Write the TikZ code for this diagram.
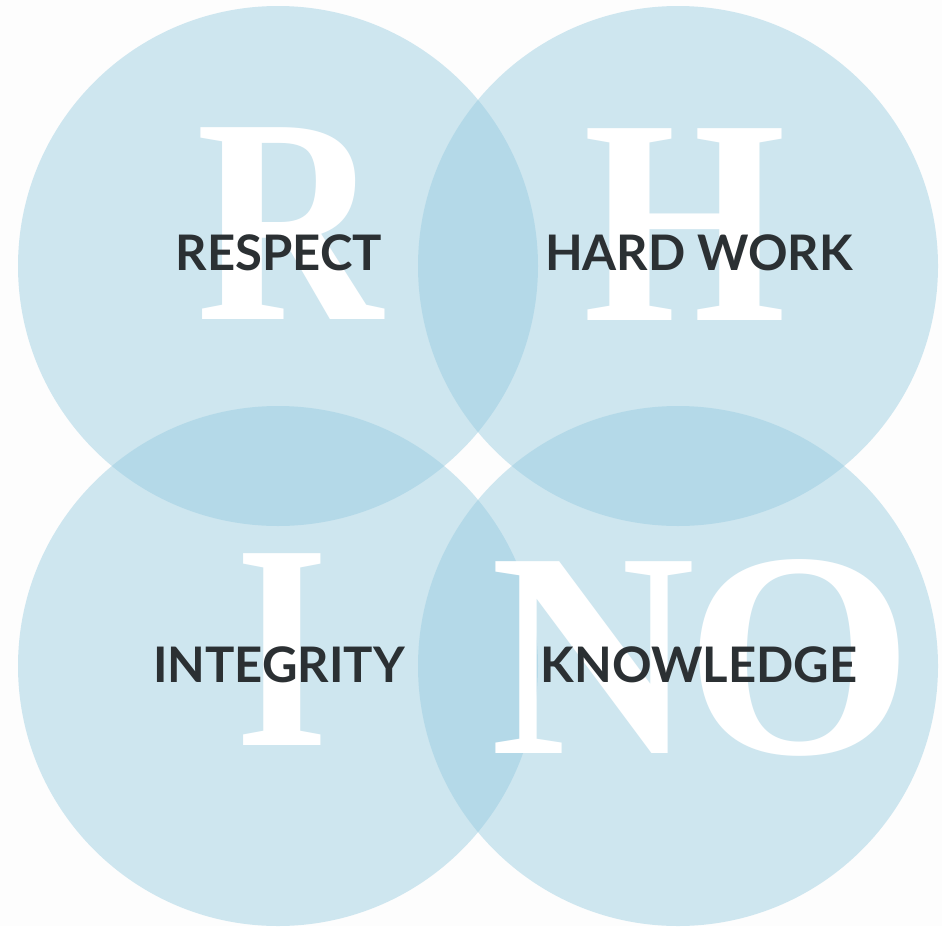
\documentclass[tikz,border=0pt]{standalone}
\usepackage{fontspec}
\newfontfamily\latofont{Lato}
\newfontfamily\bigfont{Liberation Serif}
\definecolor{paper}{RGB}{253,253,253}
\definecolor{sky}{RGB}{150,203,224}
\definecolor{ink}{HTML}{2B3033}
\begin{document}
\begin{tikzpicture}[x=1pt,y=-1pt,
		disc/.style={fill=sky,fill opacity=0.45},
		letter/.style={text=white,inner sep=0pt,anchor=base,font=\bigfont\bfseries\fontsize{293}{293}\selectfont},
		word/.style={text=ink,inner sep=0pt,font=\latofont\bfseries\fontsize{49}{49}\selectfont}]
	\fill[paper] (0,0) rectangle (942,926);
	% four circles
	\fill[disc] (278,266) circle (260);
	\fill[disc] (678,266) circle (260);
	\fill[disc] (278,666) circle (260);
	\fill[disc] (678,666) circle (260);
	% big letters
	\node[letter,xscale=0.88] (R) at (290,319) {R};
	\node[letter,xscale=0.89] (H) at (685,320) {H};
	\node[letter,xscale=0.82] (I) at (282,745) {I};
	\node[letter,xscale=0.97] (N) at (593,753) {N};
	\node[letter,xscale=1.0] (O) at (799,753) {O};
	% values
	\node[word] (respect) at (279,253) {RESPECT};
	\node[word] (hardwork) at (699,253) {HARD WORK};
	\node[word] (integrity) at (279,665) {INTEGRITY};
	\node[word] (knowledge) at (699,665) {KNOWLEDGE};
\end{tikzpicture}
\end{document}
